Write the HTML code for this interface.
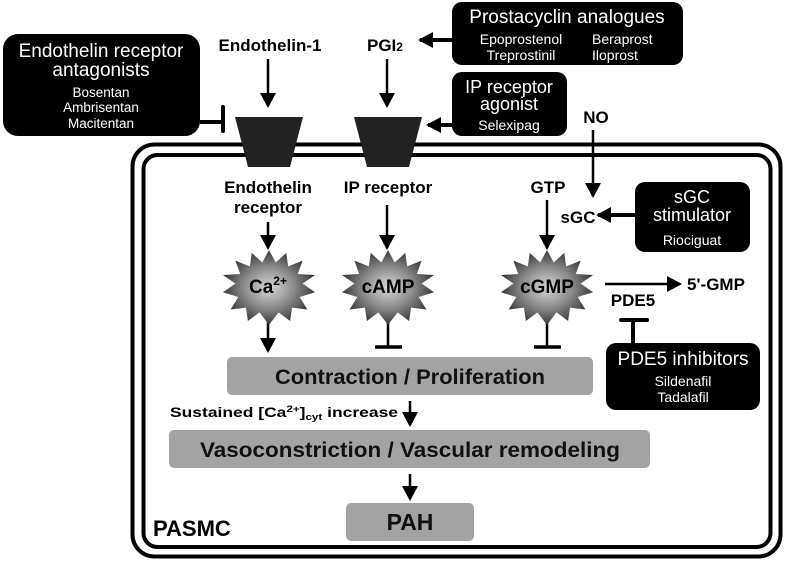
<!DOCTYPE html>
<html><head><meta charset="utf-8"><style>body{margin:0;background:#fff}svg{display:block}text{font-family:"Liberation Sans",Arial,sans-serif}</style></head><body>
<svg width="787" height="563" viewBox="0 0 787 563" xmlns="http://www.w3.org/2000/svg">
<defs>
<radialGradient id="g" cx="50%" cy="50%" r="50%"><stop offset="0" stop-color="#d8d8d8"/><stop offset="0.55" stop-color="#8a8a8a"/><stop offset="1" stop-color="#3a3a3a"/></radialGradient>
<marker id="a" markerWidth="10" markerHeight="10" refX="8" refY="5" orient="auto" markerUnits="userSpaceOnUse"><path d="M0,0 L10,5 L0,10 z" fill="#000"/></marker>
<marker id="A" markerWidth="16" markerHeight="16" refX="13" refY="8" orient="auto" markerUnits="userSpaceOnUse"><path d="M0,0 L15,8 L0,16 z" fill="#000"/></marker>
<symbol id="star" viewBox="-50 -40 100 80"><path d="M0,-38 L7,-25 L18,-35 L20,-21 L35,-27 L30,-13 L48,-12 L35,-3 L48,6 L32,11 L40,24 L24,22 L22,36 L10,27 L0,40 L-10,27 L-22,36 L-24,22 L-40,24 L-32,11 L-48,6 L-35,-3 L-48,-12 L-30,-13 L-35,-27 L-20,-21 L-18,-35 L-7,-25 z" fill="url(#g)"/></symbol>
</defs>
<!-- cell membrane -->
<rect x="132.5" y="144.5" width="648" height="412" rx="22" fill="none" stroke="#000" stroke-width="4"/>
<rect x="143.5" y="155" width="627" height="392" rx="14" fill="none" stroke="#000" stroke-width="4"/>
<!-- receptors -->
<polygon points="235,117 303,117 290,167 248,167" fill="#222"/>
<polygon points="354,117 422,117 409,167 367,167" fill="#222"/>
<g font-weight="bold" fill="#000">
<text x="270" y="51" font-size="17" text-anchor="middle">Endothelin-1</text>
<text x="385" y="51" font-size="17" text-anchor="middle">PGI<tspan font-size="12">2</tspan></text>
<text x="268" y="193" font-size="17" text-anchor="middle">Endothelin</text>
<text x="268" y="213" font-size="17" text-anchor="middle">receptor</text>
<text x="388" y="193" font-size="17" text-anchor="middle">IP receptor</text>
<text x="548" y="193" font-size="17" text-anchor="middle">GTP</text>
<text x="596" y="123" font-size="17" text-anchor="middle">NO</text>
<text x="578" y="223" font-size="17" text-anchor="middle">sGC</text>
<text x="716" y="290" font-size="17" text-anchor="middle">5'-GMP</text>
<text x="633" y="306" font-size="17" text-anchor="middle">PDE5</text>
<text x="153" y="536" font-size="22">PASMC</text>
</g>
<!-- arrows top -->
<g stroke="#000" stroke-width="2.5" fill="none">
<line x1="268" y1="59" x2="268" y2="106" marker-end="url(#A)"/>
<line x1="387" y1="59" x2="387" y2="106" marker-end="url(#A)"/>
<line x1="268" y1="222" x2="268" y2="248" marker-end="url(#A)"/>
<line x1="387" y1="205" x2="387" y2="248" marker-end="url(#A)"/>
<line x1="547" y1="200" x2="547" y2="248" marker-end="url(#A)"/>
<line x1="593" y1="130" x2="593" y2="196" marker-end="url(#A)"/>
<line x1="605" y1="284" x2="680" y2="284" marker-end="url(#A)"/>
<line x1="268" y1="322" x2="268" y2="351" marker-end="url(#A)"/>
<line x1="410" y1="401" x2="410" y2="425" marker-end="url(#A)"/>
<line x1="410" y1="474" x2="410" y2="499" marker-end="url(#A)"/>
</g>
<g stroke="#000" stroke-width="4" fill="none">
<line x1="452" y1="40" x2="420" y2="40" marker-end="url(#A)"/>
<line x1="452" y1="125" x2="428" y2="125" marker-end="url(#A)"/>
<line x1="635" y1="215" x2="598" y2="215" marker-end="url(#A)"/>
<line x1="200" y1="122" x2="222" y2="122"/>
<line x1="223" y1="107" x2="223" y2="131" stroke-linecap="round"/>
<line x1="633" y1="345" x2="633" y2="321"/>
<line x1="621" y1="320" x2="647" y2="320" stroke-linecap="round"/>
</g>
<g stroke="#000" stroke-width="2.5">
<line x1="388" y1="322" x2="388" y2="347"/><line x1="375" y1="347" x2="402" y2="347" stroke-width="3.5"/>
<line x1="547" y1="322" x2="547" y2="347"/><line x1="534" y1="347" x2="561" y2="347" stroke-width="3.5"/>
</g>
<!-- stars -->
<use href="#star" x="221" y="248" width="96" height="77"/>
<use href="#star" x="340" y="248" width="96" height="77"/>
<use href="#star" x="499" y="248" width="96" height="77"/>
<g font-weight="bold" fill="#000" font-size="19" text-anchor="middle">
<text x="268" y="293">Ca<tspan font-size="12" dy="-8">2+</tspan></text>
<text x="388" y="293">cAMP</text>
<text x="547" y="293">cGMP</text>
</g>
<!-- black boxes -->
<g fill="#000">
<rect x="3" y="34" width="197" height="102" rx="15"/>
<rect x="452" y="2" width="231" height="63" rx="10"/>
<rect x="452" y="72" width="115" height="64" rx="10"/>
<rect x="635" y="182" width="115" height="70" rx="10"/>
<rect x="606" y="343" width="154" height="67" rx="10"/>
</g>
<g fill="#fff" text-anchor="middle">
<text x="101" y="57" font-size="19">Endothelin receptor</text>
<text x="101" y="76" font-size="19">antagonists</text>
<text x="101" y="97" font-size="13.5">Bosentan</text>
<text x="101" y="112" font-size="13.5">Ambrisentan</text>
<text x="101" y="128" font-size="13.5">Macitentan</text>
<text x="567" y="23" font-size="19">Prostacyclin analogues</text>
<text x="521" y="44" font-size="14">Epoprostenol</text>
<text x="521" y="60" font-size="14">Treprostinil</text>
<text x="592" y="44" font-size="14" text-anchor="start">Beraprost</text>
<text x="592" y="60" font-size="14" text-anchor="start">Iloprost</text>
<text x="509" y="93" font-size="18">IP receptor</text>
<text x="509" y="110" font-size="18">agonist</text>
<text x="509" y="130" font-size="14">Selexipag</text>
<text x="692" y="203" font-size="18">sGC</text>
<text x="692" y="221" font-size="18">stimulator</text>
<text x="692" y="245" font-size="14">Riociguat</text>
<text x="683" y="365" font-size="19">PDE5 inhibitors</text>
<text x="683" y="386" font-size="14">Sildenafil</text>
<text x="683" y="402" font-size="14">Tadalafil</text>
</g>
<!-- gray boxes -->
<g fill="#a3a3a3">
<rect x="227" y="357" width="366" height="38" rx="5"/>
<rect x="169" y="430" width="481" height="38" rx="5"/>
<rect x="346" y="503" width="128" height="38" rx="5"/>
</g>
<g font-weight="bold" fill="#111" text-anchor="middle" font-size="21">
<text x="410" y="384" textLength="270" lengthAdjust="spacingAndGlyphs">Contraction / Proliferation</text>
<text x="410" y="457" textLength="420" lengthAdjust="spacingAndGlyphs">Vasoconstriction / Vascular remodeling</text>
<text x="410" y="530" font-size="23">PAH</text>
</g>
<text x="170" y="417" font-weight="bold" font-size="13.5" textLength="228" lengthAdjust="spacingAndGlyphs">Sustained [Ca<tspan font-size="9" dy="-5">2+</tspan><tspan dy="5">]</tspan><tspan font-size="9" dy="3">cyt</tspan><tspan dy="-3"> increase</tspan></text>
</svg>
</body></html>
